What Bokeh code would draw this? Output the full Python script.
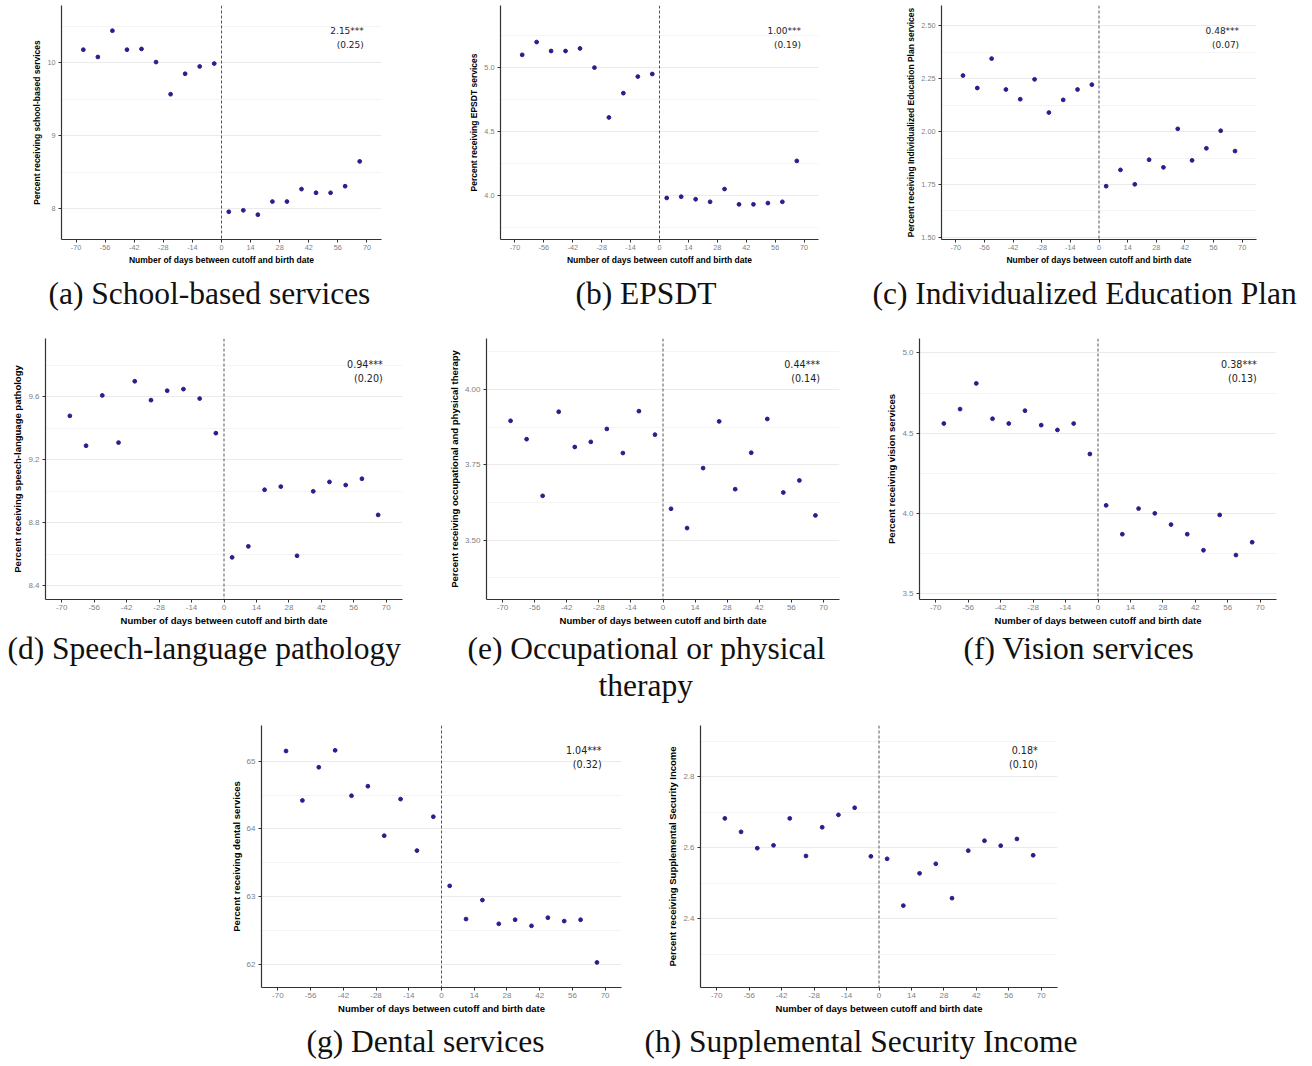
from bokeh.plotting import figure
from bokeh.models import (ColumnDataSource, FixedTicker, Range1d, Span, Label, Spacer,
                          PrintfTickFormatter, Title)
from bokeh.layouts import column, row
from bokeh.embed import file_html
from bokeh.resources import INLINE

# ---- data -------------------------------------------------------------
# weekly bins: days between school-entry cutoff and birth date (bin centres)
days = [-66.5, -59.5, -52.5, -45.5, -38.5, -31.5, -24.5, -17.5, -10.5, -3.5,
        3.5, 10.5, 17.5, 24.5, 31.5, 38.5, 45.5, 52.5, 59.5, 66.5]
x_ticks = [-70, -56, -42, -28, -14, 0, 14, 28, 42, 56, 70]
x_tick_labels = ["-70", "-56", "-42", "-28", "-14", "0", "14", "28", "42", "56", "70"]

school_based = [10.18, 10.08, 10.44, 10.18, 10.19, 10.01, 9.57, 9.85, 9.95, 9.99,
                7.96, 7.98, 7.92, 8.10, 8.10, 8.27, 8.22, 8.22, 8.31, 8.65]
epsdt = [5.10, 5.20, 5.13, 5.13, 5.15, 5.00, 4.61, 4.80, 4.93, 4.95,
         3.98, 3.99, 3.97, 3.95, 4.05, 3.93, 3.93, 3.94, 3.95, 4.27]
iep = [2.265, 2.206, 2.345, 2.199, 2.153, 2.247, 2.090, 2.150, 2.199, 2.222,
       1.742, 1.819, 1.751, 1.867, 1.831, 2.013, 1.864, 1.921, 2.004, 1.908]
speech = [9.48, 9.29, 9.61, 9.31, 9.70, 9.58, 9.64, 9.65, 9.59, 9.37,
          8.58, 8.65, 9.01, 9.03, 8.59, 9.00, 9.06, 9.04, 9.08, 8.85]
occ_phys = [3.896, 3.835, 3.647, 3.926, 3.809, 3.826, 3.869, 3.789, 3.928, 3.850,
            3.604, 3.540, 3.739, 3.894, 3.669, 3.790, 3.902, 3.658, 3.698, 3.582]
vision = [4.56, 4.65, 4.81, 4.59, 4.56, 4.64, 4.55, 4.52, 4.56, 4.37,
          4.05, 3.87, 4.03, 4.00, 3.93, 3.87, 3.77, 3.99, 3.74, 3.82]
dental = [65.15, 64.42, 64.91, 65.16, 64.49, 64.63, 63.90, 64.44, 63.68, 64.18,
          63.16, 62.67, 62.95, 62.60, 62.66, 62.57, 62.69, 62.64, 62.66, 62.03]
ssi = [2.683, 2.645, 2.599, 2.607, 2.683, 2.577, 2.658, 2.693, 2.713, 2.576,
       2.569, 2.437, 2.528, 2.555, 2.458, 2.592, 2.620, 2.606, 2.625, 2.579]

series = [school_based, epsdt, iep, speech, occ_phys, vision, dental, ssi]

estimates = ["2.15***", "1.00***", "0.48***", "0.94***", "0.44***", "0.38***", "1.04***", "0.18*"]
std_errors = ["(0.25)", "(0.19)", "(0.07)", "(0.20)", "(0.14)", "(0.13)", "(0.32)", "(0.10)"]

y_titles = [
    "Percent receiving school-based services",
    "Percent receiving EPSDT services",
    "Percent receiving Individualized Education Plan services",
    "Percent receiving speech-language pathology",
    "Percent receiving occupational and physical therapy",
    "Percent receiving vision services",
    "Percent receiving dental services",
    "Percent receiving Supplemental Security Income",
]
captions = [
    ["(a) School-based services"],
    ["(b) EPSDT"],
    ["(c) Individualized Education Plan"],
    ["(d) Speech-language pathology"],
    ["(e) Occupational or physical", "therapy"],
    ["(f) Vision services"],
    ["(g) Dental services"],
    ["(h) Supplemental Security Income"],
]
x_title = "Number of days between cutoff and birth date"

y_limits = [(7.58, 10.785), (3.655, 5.486), (1.49, 2.596), (8.312, 9.972),
            (3.303, 4.169), (3.463, 5.09), (61.66, 65.526), (2.206, 2.945)]
y_major = [[8, 9, 10], [4.0, 4.5, 5.0], [1.5, 1.75, 2.0, 2.25, 2.5], [8.4, 8.8, 9.2, 9.6],
           [3.5, 3.75, 4.0], [3.5, 4.0, 4.5, 5.0], [62, 63, 64, 65], [2.4, 2.6, 2.8]]
y_minor = [[7.5, 8.5, 9.5, 10.5], [3.75, 4.25, 4.75, 5.25], [1.625, 1.875, 2.125, 2.375],
           [8.6, 9.0, 9.4, 9.8], [3.375, 3.625, 3.875, 4.125], [3.75, 4.25, 4.75],
           [62.5, 63.5, 64.5], [2.3, 2.5, 2.7, 2.9]]
y_formats = ["%.0f", "%.1f", "%.2f", "%.1f", "%.2f", "%.1f", "%.0f", "%.1f"]

# ---- layout -----------------------------------------------------------
# (width, height, border_left, border_right, border_top, border_bottom)
geometry = [
    (430, 330, 61, 49, 5, 91), (430, 330, 70, 42, 5, 91), (452, 330, 81, 56, 5, 91),
    (440, 385, 45, 38, 8, 113), (440, 385, 46, 41, 5, 116), (432, 385, 39, 36, 8, 113),
    (440, 351, 61, 19, 10, 79), (460, 351, 60, 43, 10, 79),
]
# caption left edge, measured from the frame's left edge, one per caption line
caption_offsets = [[-13], [75], [-69], [-38], [-19, 112], [44], [45], [-56]]
# space between x-axis block and caption, per row
caption_standoff = [12, 0, 11]
CAPTION_SIZE = "31.5px"
# estimate label: distance of first line below the frame top, per row
estimate_drop = [25, 29, 25]
# text sizes per row: tick labels, axis titles, estimate labels
row_fonts = [("7.3px", "8.5px", "9px"), ("8px", "9.5px", "9.6px"), ("8px", "9.5px", "9.6px")]

POINT = "#2b1e8c"
AXIS = "#333333"
SANS = "Liberation Sans"


def make_panel(i):
    w, h, bl, br, bt, bb = geometry[i]
    frame_h = h - bt - bb
    r = min(i // 3, 2)
    tick_fs, title_fs, est_fs = row_fonts[r]

    p = figure(width=w, height=h, x_range=Range1d(-77, 77), y_range=Range1d(*y_limits[i]),
               output_backend="svg", toolbar_location=None,
               min_border_left=bl, min_border_right=br, min_border_top=bt, min_border_bottom=bb)
    p.outline_line_color = None
    p.background_fill_color = "white"
    p.border_fill_color = "white"

    yt = FixedTicker(ticks=y_major[i], minor_ticks=y_minor[i])
    p.yaxis.ticker = yt
    p.ygrid.ticker = yt
    p.yaxis.formatter = PrintfTickFormatter(format=y_formats[i])
    p.xaxis.ticker = FixedTicker(ticks=x_ticks)
    p.xaxis.major_label_overrides = dict(zip(x_ticks, x_tick_labels))

    p.xgrid.grid_line_color = None
    p.ygrid.grid_line_color = "#ebebeb"
    p.ygrid.grid_line_width = 1
    p.ygrid.minor_grid_line_color = "#f4f4f4"
    p.ygrid.minor_grid_line_width = 1

    for ax in (p.xaxis[0], p.yaxis[0]):
        ax.axis_line_color = AXIS
        ax.axis_line_width = 1.2
        ax.major_tick_line_color = AXIS
        ax.major_tick_out = 3
        ax.major_tick_in = 0
        ax.minor_tick_line_color = None
        ax.major_label_text_color = "#7f7f7f"
        ax.major_label_text_font = SANS
        ax.major_label_text_font_size = tick_fs
        ax.major_label_standoff = 2
        ax.axis_label_text_font = SANS
        ax.axis_label_text_font_style = "bold"
        ax.axis_label_text_font_size = title_fs
        ax.axis_label_text_color = "black"
        ax.axis_label_standoff = 2
    p.xaxis.axis_label = x_title
    p.yaxis.axis_label = y_titles[i]

    p.add_layout(Span(location=0, dimension="height", line_color="#555555",
                      line_dash="3 2", line_width=1))

    src = ColumnDataSource(dict(days=days, pct=series[i]))
    p.scatter("days", "pct", source=src, size=3.8, color=POINT)

    for k, txt in enumerate((estimates[i], std_errors[i])):
        p.add_layout(Label(x=68.5, y=frame_h - estimate_drop[r] - 14 * k,
                           x_units="data", y_units="screen",
                           text=txt, text_align="right", text_baseline="middle",
                           text_font="DejaVu Sans", text_font_size=est_fs,
                           text_color="#222222"))

    for k, (line, off) in enumerate(zip(captions[i], caption_offsets[i])):
        p.add_layout(Title(text=line, align="left", offset=off,
                           standoff=caption_standoff[r] if k == 0 else 0,
                           text_font="Liberation Serif", text_font_size=CAPTION_SIZE,
                           text_font_style="normal", text_color="#111111"), "below")
    return p


panels = [make_panel(i) for i in range(8)]
layout = column(
    row(panels[0], panels[1], panels[2]),
    row(panels[3], panels[4], panels[5]),
    row(Spacer(width=200, height=351), panels[6], panels[7]),
)

open("out.html", "w").write(file_html(layout, INLINE))
